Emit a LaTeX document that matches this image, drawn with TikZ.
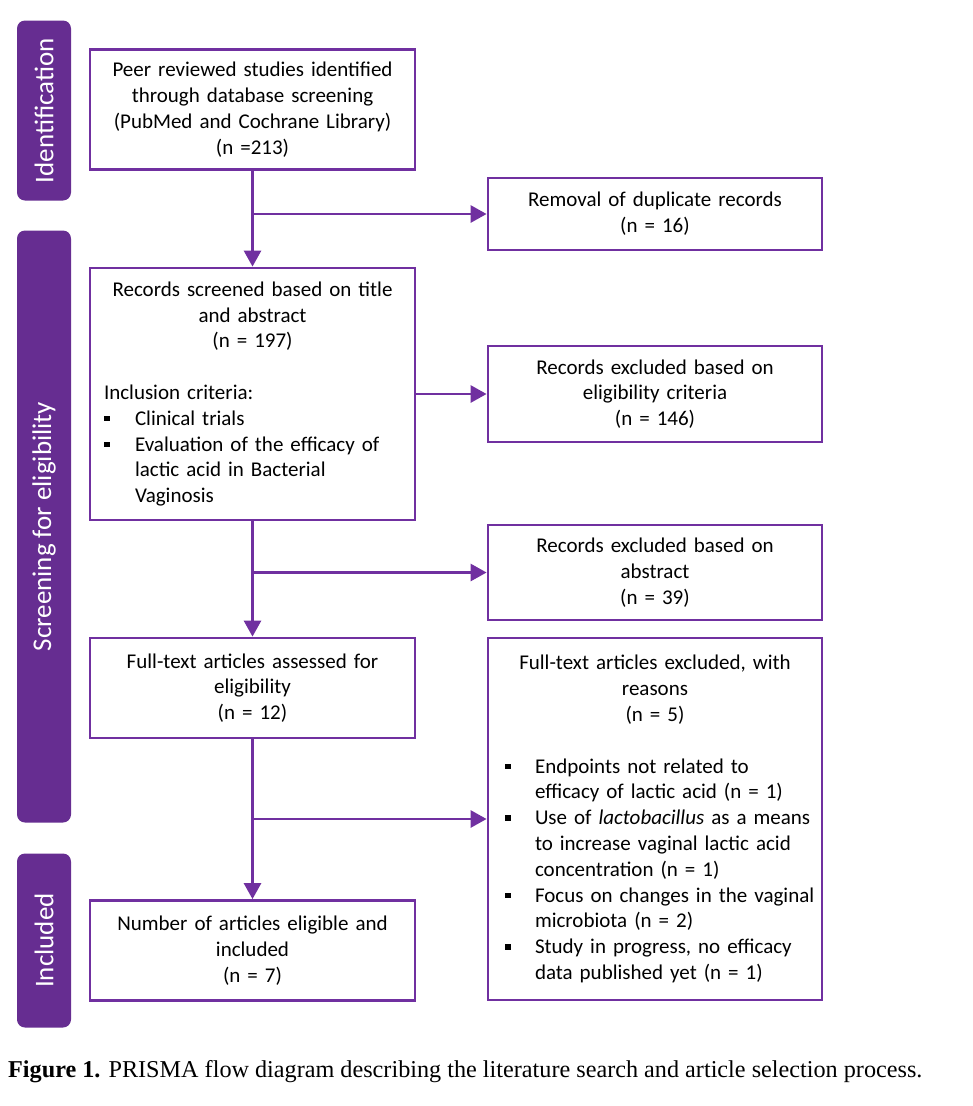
\documentclass[tikz,border=0pt]{standalone}
\usepackage{fontspec}
\setmainfont{Carlito}
\newfontfamily\capfont{Liberation Serif}
\usepackage{tikz}
\usetikzlibrary{arrows.meta, positioning}
\definecolor{prismapurple}{RGB}{112, 48, 160}
\definecolor{stagepurple}{RGB}{102, 45, 145}
\newlength{\bindent}
\newlength{\boffset}
\setlength{\bindent}{31pt}
\setlength{\boffset}{0pt}
\newcommand{\bitem}[1]{\par\noindent\hangindent=\bindent\hangafter=1\makebox[\bindent][l]{\hspace{\boffset}\raisebox{4pt}{\rule{5.5pt}{5.5pt}}}#1\par}

\begin{document}
\begin{tikzpicture}[
  x=1pt, y=-1pt,
  box/.style={draw=prismapurple, line width=2.8pt, fill=white, text width=297pt, inner xsep=14pt, inner ysep=0pt, align=center, font=\fontsize{21}{25.8}\selectfont},
  listbox/.style={draw=prismapurple, line width=2.8pt, fill=white, text width=297pt, inner xsep=14pt, inner ysep=0pt, font=\fontsize{21}{25.8}\selectfont},
  sidebox/.style={box, text width=304pt, inner xsep=15pt},
  sidelist/.style={listbox, text width=324pt, inner xsep=5pt},
  stage/.style={fill=stagepurple, rounded corners=8pt, rotate=90, minimum height=54pt, inner sep=0pt, text=white, font=\fontsize{27}{30}\selectfont},
  arr/.style={-{Triangle[length=16pt, width=17pt]}, draw=prismapurple, line width=2.8pt},
]
  \useasboundingbox (0,0) rectangle (973,1106);

  % Stages
  \node[stage, minimum width=180pt] (idlab) at (44,110.5) {Identification};
  \node[stage, minimum width=592pt] (scrlab) at (44,526.5) {Screening for eligibility};
  \node[stage, minimum width=174pt] (inclab) at (44,940.5) {Included};

  % Blocks
  \node[box, minimum height=120pt] (ident) at (252.5,109.5) {Peer reviewed studies identified\\through database screening\\(PubMed and Cochrane Library)\\(n =213)};
  \node[sidebox, minimum height=72pt] (dup) at (655,214) {Removal of duplicate records\\(n = 16)};
  \node[listbox, minimum height=252pt] (screen) at (252.5,394) {%
    {\centering Records screened based on title\\and abstract\\(n = 197)\par}
    \vspace{25.8pt}
    {\raggedright\noindent Inclusion criteria:\par
    \bitem{Clinical trials}
    \bitem{Evaluation of the efficacy of\newline lactic acid in Bacterial\newline Vaginosis}}};
  \node[sidebox, minimum height=96pt] (elig) at (655,394) {Records excluded based on\\eligibility criteria\\(n = 146)};
  \node[sidebox, minimum height=95pt] (abst) at (655,572.5) {Records excluded based on\\abstract\\(n = 39)};
  \node[box, minimum height=100pt] (fulltext) at (252.5,688) {Full-text articles assessed for\\eligibility\\(n = 12)};
  \node[sidelist, minimum height=362pt] (ftexcl) at (655,819) {%
    {\centering Full-text articles excluded, with\\reasons\\(n = 5)\par}
    \vspace{25.8pt}
    {\raggedright\setlength{\bindent}{42pt}\setlength{\boffset}{12pt}%
    \bitem{Endpoints not related to\newline efficacy of lactic acid (n = 1)}
    \bitem{Use of \textit{lactobacillus} as a means\newline to increase vaginal lactic acid\newline concentration (n = 1)}
    \bitem{Focus on changes in the vaginal\newline microbiota (n = 2)}
    \bitem{Study in progress, no efficacy\newline data published yet (n = 1)}}};
  \node[box, minimum height=100pt] (incl) at (252.5,950.5) {Number of articles eligible and\\included\\(n = 7)};

  % Split points
  \coordinate (s1) at (ident.south |- dup.west);
  \coordinate (s2) at (ident.south |- abst.west);
  \coordinate (s3) at (ident.south |- ftexcl.west);

  % Arrows
  \draw[arr] (ident.south) -- (screen.north);
  \draw[arr] (s1) -- (dup.west);
  \draw[arr] (screen.east) -- (elig.west);
  \draw[arr] (screen.south) -- (fulltext.north);
  \draw[arr] (s2) -- (abst.west);
  \draw[arr] (fulltext.south) -- (incl.north);
  \draw[arr] (s3) -- (ftexcl.west);

  % Caption
  \node[anchor=west, inner sep=0pt, font=\capfont\fontsize{24.2}{28}\selectfont] (caption) at (8,1072) {\textbf{Figure 1.} PRISMA flow diagram describing the literature search and article selection process.};
\end{tikzpicture}
\end{document}
